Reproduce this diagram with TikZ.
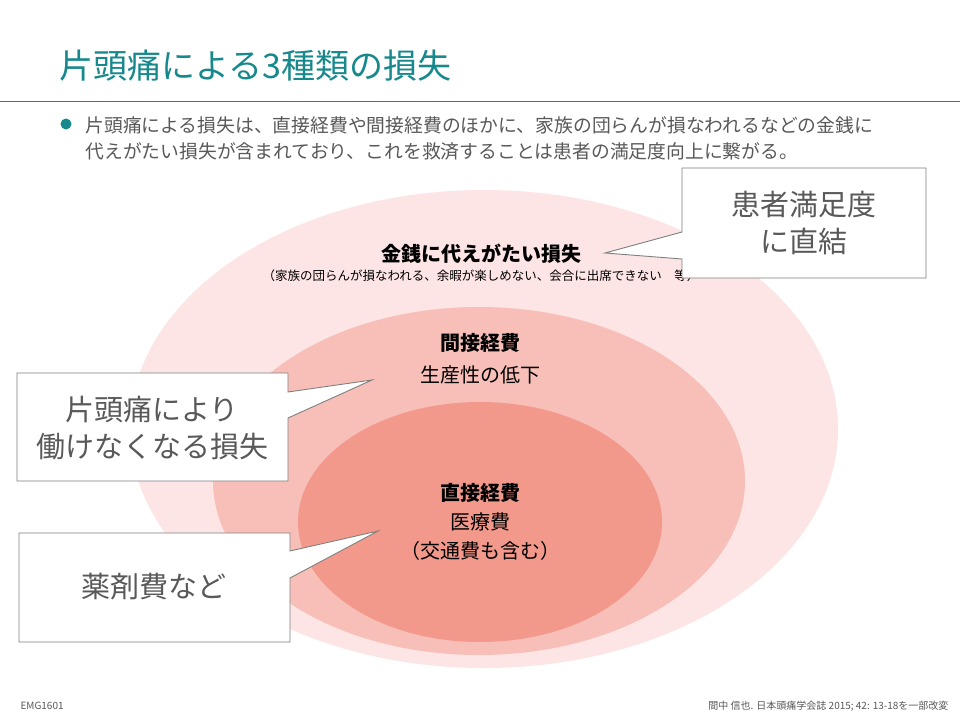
\documentclass[tikz,border=0pt]{standalone}
\usepackage{fontspec}
\setmainfont{Noto Sans CJK JP}
\usepackage[]{color}
\usepackage{tikz}
\usetikzlibrary{calc}

\definecolor{tealtitle}{RGB}{23,137,140}
\definecolor{textgray}{RGB}{89,89,89}
\definecolor{boxgray}{RGB}{127,127,127}
\definecolor{pinkouter}{RGB}{252,229,228}
\definecolor{pinkmiddle}{RGB}{247,191,184}
\definecolor{pinkinner}{RGB}{242,153,140}

\begin{document}
\begin{tikzpicture}[x = 1pt, y = -1pt,
  callout/.style = {draw = boxgray, line width = 0.9pt, fill = white},
  bigtext/.style = {font = \fontsize{29}{37}\selectfont, text = textgray, align = center},
  headtext/.style = {font = \fontsize{20}{24}\selectfont\bfseries},
  bodytext/.style = {font = \fontsize{20}{29}\selectfont, align = center},
  foot/.style = {font = \fontsize{10}{12}\selectfont, text = textgray}]
\useasboundingbox [fill = white] (0, 0) rectangle (960, 720);
%\draw[very thin, color = gray](0, 0) grid[xstep = 40, ystep = 40] (960, 720);
\node (title) at (56, 66) [anchor = west, text = tealtitle, font = \fontsize{34}{40}\selectfont] {片頭痛による3種類の損失};
\draw [tealtitle, line width = 1pt] (0, 101) -- (960, 101);
\fill [tealtitle] (66, 124) circle (5.5);
\node (lead) at (82, 138) [anchor = west, text = textgray, align = left, font = \fontsize{18.8}{26}\selectfont] {片頭痛による損失は、直接経費や間接経費のほかに、家族の団らんが損なわれるなどの金銭に\\代えがたい損失が含まれており、これを救済することは患者の満足度向上に繋がる。};
\fill [pinkouter] (484, 429) ellipse (354 and 239);
\fill [pinkmiddle] (479, 481) ellipse (266 and 174);
\fill [pinkinner] (480, 522) ellipse (182 and 120);
\node (priceless) at (481, 254) [headtext] {金銭に代えがたい損失};
\node (prices) at (481, 276) [font = \fontsize{12.5}{15}\selectfont] {（家族の団らんが損なわれる、余暇が楽しめない、会合に出席できない　等）};
\node (indirect) at (480, 343) [headtext] {間接経費};
\node (productivity) at (480, 375) [bodytext] {生産性の低下};
\node (direct) at (480, 493) [headtext] {直接経費};
\node (medical) at (480, 537) [bodytext] {医療費\\（交通費も含む）};
\draw [callout] (682, 168) -- (926, 168) -- (926, 278) -- (682, 278) -- (682, 259) -- (605, 253) -- (682, 232) -- cycle;
\draw [callout] (17, 373) -- (288, 373) -- (288, 392) -- (372, 380) -- (288, 418) -- (288, 481) -- (17, 481) -- cycle;
\draw [callout] (19, 533) -- (290, 533) -- (290, 551) -- (378, 531) -- (290, 578) -- (290, 642) -- (19, 642) -- cycle;
\node (satisfaction) at (804, 223) [bigtext] {患者満足度\\に直結};
\node (worklost) at (152, 428) [bigtext] {片頭痛により\\働けなくなる損失};
\node (drugs) at (154, 587) [bigtext] {薬剤費など};
\node (code) at (17, 706) [foot, anchor = west] {EMG1601};
\node (source) at (952, 706) [foot, anchor = east] {間中 信也. 日本頭痛学会誌 2015; 42: 13-18を一部改変};
\end{tikzpicture}
\end{document}
